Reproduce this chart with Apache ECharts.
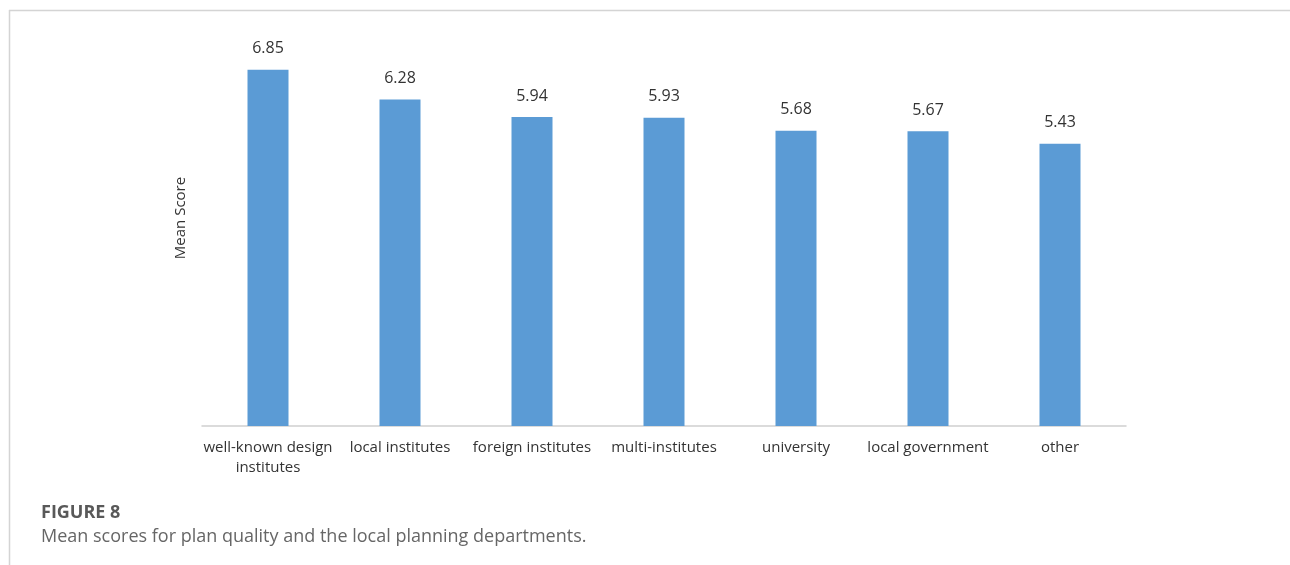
<!DOCTYPE html>
<html>
<head>
<meta charset="utf-8">
<script src="https://cdn.jsdelivr.net/npm/echarts@6/dist/echarts.min.js"></script>
<style>
  html, body { margin: 0; padding: 0; background: #fff; }
  #main { width: 1290px; height: 565px; }
</style>
</head>
<body>
<div id="main"></div>
<script>
var categories = ['well-known design\ninstitutes', 'local institutes', 'foreign institutes', 'multi-institutes', 'university', 'local government', 'other'];
var meanScores = [6.85, 6.28, 5.94, 5.93, 5.68, 5.67, 5.43];

var myChart = echarts.init(document.getElementById('main'));

var option = {
    animation: false,
    grid: {
        left: 202,
        right: 164,
        top: 10,
        bottom: 139
    },
    graphic: [
        // frame lines (top + left)
        {type: 'line', shape: {x1: 9, y1: 10.5, x2: 1290, y2: 10.5}, style: {stroke: '#d4d4d4', lineWidth: 1.5}},
        {type: 'line', shape: {x1: 9.5, y1: 10, x2: 9.5, y2: 565}, style: {stroke: '#d4d4d4', lineWidth: 1.5}},
        {type: 'text', left: 41, top: 504, style: {text: 'FIGURE 8', fontSize: 18, fontWeight: 'bold', fontFamily: 'Open Sans', fill: '#595959'}},
        {type: 'text', left: 41, top: 528, style: {text: 'Mean scores for plan quality and the local planning departments.', fontSize: 18, fontFamily: 'Open Sans', fill: '#666'}}
    ],
    xAxis: {
        type: 'category',
        data: categories,
        axisLine: {lineStyle: {color: '#d0d0d0', width: 1.5}},
        axisTick: {show: false},
        axisLabel: {
            color: '#333',
            fontSize: 15,
            fontFamily: 'Open Sans',
            margin: 12,
            lineHeight: 20,
            interval: 0
        }
    },
    yAxis: {
        type: 'value',
        min: 0,
        max: 8,
        name: 'Mean Score',
        nameLocation: 'middle',
        nameGap: 14,
        nameTextStyle: {color: '#333', fontSize: 15, fontFamily: 'Open Sans'},
        axisLine: {show: false},
        axisTick: {show: false},
        axisLabel: {show: false},
        splitLine: {show: false}
    },
    series: [{
        type: 'bar',
        data: meanScores,
        barWidth: 41,
        itemStyle: {color: '#5b9bd5'},
        label: {
            show: true,
            position: 'top',
            distance: 13,
            color: '#333',
            fontSize: 16,
            fontFamily: 'Open Sans'
        }
    }]
};

myChart.setOption(option, true);
</script>
</body>
</html>
